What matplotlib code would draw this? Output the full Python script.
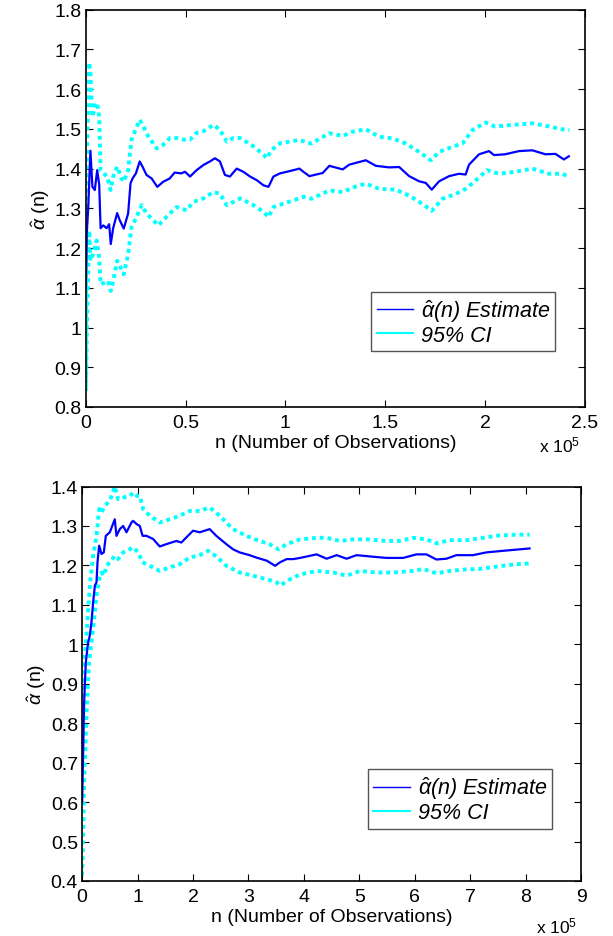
import matplotlib
matplotlib.use("Agg")
import matplotlib.pyplot as plt
from matplotlib.lines import Line2D
from matplotlib.ticker import FormatStrFormatter

plt.rcParams["font.family"] = ["Liberation Sans", "DejaVu Sans"]
plt.rcParams["mathtext.fontset"] = "custom"
plt.rcParams["mathtext.rm"] = "Liberation Sans"
plt.rcParams["mathtext.it"] = "Liberation Sans:italic"

BLUE = "#0000ff"
CYAN = "#00ffff"

# ---- top panel (n in units of 1e5) ----
top_est_x = [0.0, 0.005, 0.012, 0.023, 0.033, 0.045, 0.057, 0.067, 0.074, 0.087, 0.104, 0.117, 0.125,
             0.137, 0.157, 0.17, 0.19, 0.212, 0.224, 0.234, 0.251, 0.27, 0.284, 0.304, 0.33, 0.358,
             0.388, 0.42, 0.445, 0.478, 0.497, 0.522, 0.555, 0.589, 0.622, 0.647, 0.672, 0.697, 0.722,
             0.756, 0.789, 0.823, 0.856, 0.89, 0.915, 0.94, 0.973, 1.007, 1.04, 1.07, 1.09, 1.12, 1.187,
             1.22, 1.287, 1.32, 1.403, 1.453, 1.52, 1.57, 1.62, 1.67, 1.703, 1.733, 1.77, 1.82, 1.87,
             1.903, 1.92, 1.97, 2.02, 2.045, 2.1, 2.17, 2.237, 2.303, 2.353, 2.395, 2.42]
top_est_y = [1.10, 1.24, 1.30, 1.445, 1.354, 1.346, 1.396, 1.36, 1.25, 1.257, 1.25, 1.26, 1.21,
             1.25, 1.288, 1.27, 1.249, 1.287, 1.363, 1.375, 1.388, 1.418, 1.405, 1.384, 1.375, 1.354,
             1.367, 1.375, 1.39, 1.388, 1.392, 1.38, 1.396, 1.409, 1.418, 1.426, 1.418, 1.384, 1.38,
             1.40, 1.392, 1.38, 1.371, 1.358, 1.354, 1.38, 1.388, 1.392, 1.396, 1.40, 1.392, 1.381,
             1.389, 1.407, 1.398, 1.41, 1.421, 1.407, 1.403, 1.404, 1.381, 1.368, 1.364, 1.347, 1.368,
             1.381, 1.387, 1.385, 1.41, 1.436, 1.444, 1.434, 1.436, 1.444, 1.446, 1.436, 1.437, 1.423,
             1.431]

top_hi_x = [0.0, 0.002, 0.007, 0.017, 0.023, 0.033, 0.045, 0.057, 0.067, 0.074, 0.09, 0.107, 0.124,
            0.137, 0.157, 0.179, 0.19, 0.212, 0.229, 0.246, 0.27, 0.288, 0.313, 0.355, 0.388, 0.421,
            0.455, 0.488, 0.522, 0.555, 0.589, 0.639, 0.672, 0.706, 0.739, 0.773, 0.84, 0.89, 0.906,
            0.931, 0.973, 1.023, 1.07, 1.13, 1.22, 1.287, 1.337, 1.403, 1.47, 1.537, 1.603, 1.67,
            1.728, 1.77, 1.837, 1.887, 1.937, 2.003, 2.05, 2.137, 2.237, 2.32, 2.387, 2.423]
top_hi_y = [0.85, 1.36, 1.464, 1.667, 1.64, 1.53, 1.557, 1.566, 1.53, 1.396, 1.388, 1.38, 1.346,
            1.38, 1.405, 1.375, 1.367, 1.396, 1.473, 1.494, 1.523, 1.506, 1.481, 1.451, 1.46, 1.477,
            1.477, 1.473, 1.473, 1.49, 1.494, 1.51, 1.498, 1.468, 1.477, 1.477, 1.456, 1.435, 1.426,
            1.447, 1.464, 1.468, 1.472, 1.463, 1.489, 1.482, 1.493, 1.499, 1.48, 1.476, 1.463, 1.442,
            1.421, 1.442, 1.455, 1.463, 1.497, 1.516, 1.506, 1.51, 1.514, 1.506, 1.499, 1.497]

top_lo_x = [0.0, 0.007, 0.017, 0.023, 0.037, 0.054, 0.067, 0.074, 0.095, 0.112, 0.125, 0.137, 0.157,
            0.174, 0.19, 0.212, 0.229, 0.254, 0.28, 0.304, 0.338, 0.363, 0.388, 0.421, 0.455, 0.505,
            0.538, 0.589, 0.639, 0.672, 0.706, 0.739, 0.773, 0.84, 0.89, 0.915, 0.94, 0.99, 1.04,
            1.09, 1.13, 1.22, 1.287, 1.353, 1.403, 1.47, 1.553, 1.62, 1.687, 1.733, 1.787, 1.853,
            1.903, 1.953, 2.01, 2.07, 2.153, 2.237, 2.32, 2.387, 2.42]
top_lo_y = [0.84, 1.033, 1.244, 1.168, 1.185, 1.219, 1.176, 1.109, 1.113, 1.117, 1.092, 1.117, 1.168,
            1.151, 1.134, 1.185, 1.253, 1.278, 1.308, 1.287, 1.27, 1.257, 1.27, 1.287, 1.303, 1.295,
            1.316, 1.325, 1.341, 1.337, 1.308, 1.316, 1.325, 1.308, 1.291, 1.278, 1.303, 1.312, 1.32,
            1.329, 1.324, 1.345, 1.341, 1.355, 1.362, 1.349, 1.347, 1.332, 1.311, 1.294, 1.324, 1.336,
            1.349, 1.37, 1.396, 1.387, 1.392, 1.40, 1.387, 1.387, 1.379]

# ---- bottom panel (n in units of 1e5) ----
bot_est_x = [0.0, 0.018, 0.036, 0.066, 0.108, 0.138, 0.168, 0.198, 0.23, 0.259, 0.277, 0.307, 0.349,
             0.391, 0.427, 0.499, 0.589, 0.619, 0.679, 0.74, 0.8, 0.89, 0.92, 0.98, 1.04, 1.09, 1.16,
             1.28, 1.4, 1.52, 1.7, 1.79, 1.88, 2.0, 2.12, 2.3, 2.42, 2.6, 2.72, 2.84, 3.02, 3.14, 3.33,
             3.48, 3.57, 3.69, 3.81, 3.93, 4.23, 4.41, 4.59, 4.77, 4.95, 5.25, 5.49, 5.79, 6.03, 6.21,
             6.39, 6.57, 6.75, 7.05, 7.29, 7.59, 7.83, 8.07]
bot_est_y = [0.6, 0.727, 0.853, 0.954, 1.005, 1.022, 1.056, 1.106, 1.149, 1.157, 1.208, 1.25, 1.229,
             1.233, 1.275, 1.284, 1.317, 1.275, 1.292, 1.30, 1.284, 1.309, 1.313, 1.305, 1.30, 1.275,
             1.275, 1.267, 1.248, 1.254, 1.262, 1.258, 1.271, 1.288, 1.284, 1.292, 1.275, 1.254, 1.241,
             1.233, 1.226, 1.22, 1.212, 1.199, 1.208, 1.216, 1.216, 1.219, 1.228, 1.217, 1.226, 1.217,
             1.226, 1.222, 1.219, 1.219, 1.228, 1.228, 1.215, 1.217, 1.226, 1.226, 1.233, 1.237, 1.24,
             1.243]

bot_hi_x = [0.0, 0.018, 0.048, 0.078, 0.108, 0.15, 0.198, 0.259, 0.307, 0.349, 0.409, 0.499, 0.589,
            0.649, 0.74, 0.86, 0.92, 0.99, 1.04, 1.1, 1.22, 1.4, 1.58, 1.76, 1.94, 2.12, 2.3, 2.48,
            2.72, 2.96, 3.2, 3.38, 3.54, 3.69, 3.93, 4.23, 4.41, 4.65, 4.89, 5.13, 5.49, 5.73, 5.97,
            6.21, 6.39, 6.63, 6.93, 7.23, 7.53, 7.83, 8.07]
bot_hi_y = [0.786, 0.895, 0.971, 1.022, 1.089, 1.165, 1.224, 1.275, 1.343, 1.334, 1.351, 1.364, 1.40,
            1.368, 1.372, 1.376, 1.385, 1.376, 1.376, 1.343, 1.326, 1.309, 1.317, 1.326, 1.338, 1.338,
            1.347, 1.326, 1.292, 1.275, 1.262, 1.254, 1.241, 1.254, 1.266, 1.27, 1.27, 1.262, 1.266,
            1.266, 1.262, 1.262, 1.27, 1.266, 1.256, 1.264, 1.264, 1.27, 1.276, 1.278, 1.278]

bot_lo_x = [0.0, 0.018, 0.036, 0.066, 0.09, 0.126, 0.168, 0.21, 0.259, 0.307, 0.349, 0.391, 0.439,
            0.499, 0.589, 0.649, 0.74, 0.86, 0.92, 1.01, 1.09, 1.22, 1.4, 1.58, 1.76, 1.94, 2.12,
            2.27, 2.42, 2.6, 2.84, 3.08, 3.33, 3.51, 3.57, 3.75, 3.93, 4.23, 4.53, 4.77, 5.01, 5.31,
            5.61, 5.97, 6.15, 6.39, 6.63, 6.93, 7.17, 7.53, 7.83, 8.07]
bot_lo_y = [0.414, 0.516, 0.642, 0.769, 0.862, 0.954, 1.005, 1.056, 1.123, 1.165, 1.182, 1.174, 1.199,
            1.208, 1.224, 1.216, 1.233, 1.241, 1.246, 1.233, 1.208, 1.199, 1.186, 1.195, 1.203, 1.22,
            1.226, 1.237, 1.223, 1.199, 1.182, 1.174, 1.165, 1.157, 1.149, 1.165, 1.177, 1.186, 1.182,
            1.174, 1.186, 1.182, 1.182, 1.186, 1.191, 1.18, 1.186, 1.19, 1.191, 1.198, 1.203, 1.205]

top_xticks = [0, 0.5, 1, 1.5, 2, 2.5]
top_yticks = [0.8, 0.9, 1, 1.1, 1.2, 1.3, 1.4, 1.5, 1.6, 1.7, 1.8]
bot_xticks = [0, 1, 2, 3, 4, 5, 6, 7, 8, 9]
bot_yticks = [0.4, 0.5, 0.6, 0.7, 0.8, 0.9, 1, 1.1, 1.2, 1.3, 1.4]

est_label = r"$\hat{\alpha}$(n) Estimate"
ci_label = "95% CI"


def draw_panel(ax, est, hi, lo, xticks, yticks, legend_box, mult_pos):
    ax.plot(hi[0], hi[1], color=CYAN, lw=2.8, ls=(0, (1, 1)))
    ax.plot(lo[0], lo[1], color=CYAN, lw=2.8, ls=(0, (1, 1)))
    ax.plot(est[0], est[1], color=BLUE, lw=1.6)
    ax.set_xlim(xticks[0], xticks[-1])
    ax.set_ylim(yticks[0], yticks[-1])
    ax.set_xticks(xticks)
    ax.set_yticks(yticks)
    ax.xaxis.set_major_formatter(FormatStrFormatter("%g"))
    ax.yaxis.set_major_formatter(FormatStrFormatter("%g"))
    ax.tick_params(direction="in", top=True, right=True, length=5, width=0.8,
                   labelsize=14, pad=3)
    ax.tick_params(axis="x", pad=5)
    for s in ax.spines.values():
        s.set_linewidth(1.2)
    ax.set_xlabel("n (Number of Observations)", fontsize=14, labelpad=2)
    ax.set_ylabel(r"$\hat{\alpha}$ (n)", fontsize=14, labelpad=2)
    ax.text(mult_pos[0], mult_pos[1], r"x 10$^5$", transform=ax.transAxes, ha="center",
            va="center", fontsize=12.5)
    handles = [Line2D([], [], color=BLUE, lw=1.0), Line2D([], [], color=CYAN, lw=1.5)]
    leg = ax.legend(handles, [est_label, ci_label], loc="upper left",
                    bbox_to_anchor=legend_box, borderaxespad=0, fancybox=False,
                    framealpha=1, edgecolor="#555555", handlelength=1.7,
                    handletextpad=0.35, borderpad=0.25, labelspacing=0.05,
                    prop={"size": 15.5, "style": "italic"})
    leg.get_frame().set_linewidth(1.0)


fig = plt.figure(figsize=(6.13, 9.37), dpi=100)
ax1 = fig.add_axes([0.140, 0.5646, 0.814, 0.424])
ax2 = fig.add_axes([0.134, 0.0587, 0.814, 0.421])

draw_panel(ax1, (top_est_x, top_est_y), (top_hi_x, top_hi_y), (top_lo_x, top_lo_y),
           top_xticks, top_yticks, (0.572, 0.29), (0.95, -0.095))
draw_panel(ax2, (bot_est_x, bot_est_y), (bot_hi_x, bot_hi_y), (bot_lo_x, bot_lo_y),
           bot_xticks, bot_yticks, (0.573, 0.2835), (0.95, -0.112))

fig.savefig("out.png", dpi=100)
